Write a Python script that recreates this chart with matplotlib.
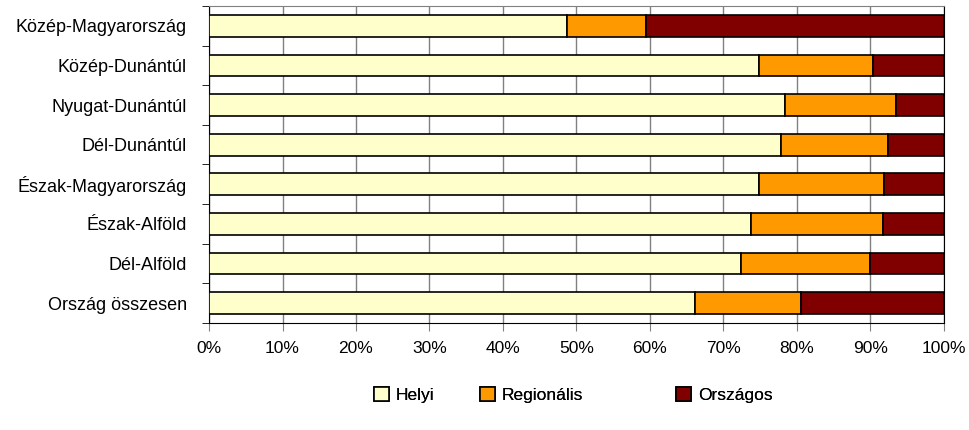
import numpy as np
import matplotlib.pyplot as plt
from matplotlib.patches import Patch

plt.rcParams['font.family'] = ['Liberation Sans', 'DejaVu Sans']

# regiok, felulrol lefele
regiok = ['Közép-Magyarország', 'Közép-Dunántúl', 'Nyugat-Dunántúl', 'Dél-Dunántúl',
          'Észak-Magyarország', 'Észak-Alföld', 'Dél-Alföld', 'Ország összesen']
helyi = [48.7, 74.8, 78.4, 77.8, 74.8, 73.7, 72.4, 66.1]
regionalis = [10.8, 15.5, 15.1, 14.6, 17.1, 18.0, 17.6, 14.4]
orszagos = [40.5, 9.7, 6.5, 7.6, 8.1, 8.3, 10.0, 19.5]

sorozatok = ['Helyi', 'Regionális', 'Országos']
szinek = ['#FFFFCC', '#FF9900', '#800000']

fig = plt.figure(figsize=(9.7, 4.3), dpi=100)
ax = fig.add_axes([0.2155, 0.249, 0.7575, 0.737])

y = np.arange(len(regiok))
bal = np.zeros(len(regiok))
for adat, nev, szin in zip([helyi, regionalis, orszagos], sorozatok, szinek):
    ax.barh(y, adat, left=bal, height=0.55, color=szin, edgecolor='black',
            linewidth=1.2, label=nev, zorder=3)
    bal += np.array(adat)

ax.set_xlim(0, 100)
ax.set_ylim(len(regiok) - 0.5, -0.5)
ax.set_xticks(np.arange(0, 101, 10))
ax.set_xticklabels(['%d%%' % v for v in range(0, 101, 10)], fontsize=12.5)
ax.set_yticks(y)
ax.set_yticklabels(regiok, fontsize=13)
ax.set_yticks(np.arange(-0.5, len(regiok), 1), minor=True)
ax.tick_params(axis='y', which='major', length=0, pad=16)
ax.tick_params(axis='y', which='minor', length=5, direction='out', color='black')
ax.tick_params(axis='x', length=6, direction='out', color='#808080', pad=7)
ax.xaxis.grid(True, color='#808080', linewidth=1, zorder=0)

for s in ['left', 'bottom', 'right']:
    ax.spines[s].set_color('black')
ax.spines['top'].set_color('#808080')

# legend elemek kulon, mint az eredetin
helyek = [374, 480, 676]
for nev, szin, px in zip(sorozatok, szinek, helyek):
    lg = fig.legend([Patch(facecolor=szin, edgecolor='black', linewidth=1.2)], [nev],
                    loc='center left', bbox_to_anchor=(px / 970, 0.082), frameon=False,
                    fontsize=12.5, handlelength=0.85, handleheight=0.85,
                    handletextpad=0.4, borderpad=0, borderaxespad=0)
    fig.add_artist(lg)

fig.savefig('out.png', dpi=100)
